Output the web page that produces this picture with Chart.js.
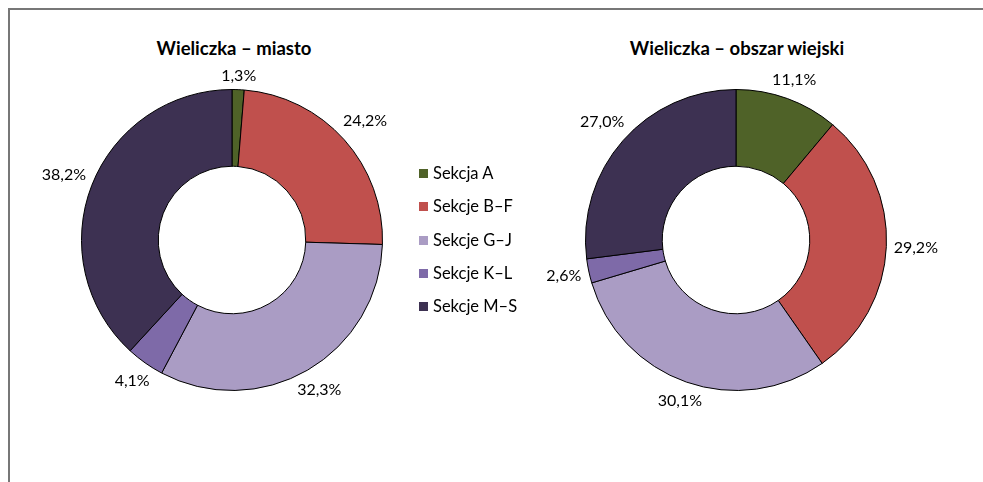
<!DOCTYPE html>
<html>
<head>
<meta charset="utf-8">
<script src="https://cdn.jsdelivr.net/npm/chart.js@4/dist/chart.umd.min.js"></script>
<style>
  body { margin: 0; background: #fff; font-family: Lato, "Noto Sans", sans-serif; }
  .frame { position: absolute; left: 8px; top: 8px; width: 975px; height: 474px; border-top: 2px solid #777; border-left: 2px solid #777; }
  .title { position: absolute; top: 37px; width: 300px; text-align: center; font-weight: bold; font-size: 18.5px; color: #000; }
  .box { position: absolute; width: 440px; height: 440px; top: 20px; }
  .legend { position: absolute; left: 419px; top: 163px; font-size: 16.5px; color: #000; z-index: 2; }
  .legend div { height: 33.3px; display: flex; align-items: flex-start; }
  .legend span.sw { width: 9px; height: 9px; margin-right: 5px; margin-top: 6px; }
</style>
</head>
<body>
<div class="frame"></div>
<div class="title" style="left:84px">Wieliczka – miasto</div>
<div class="title" style="left:587px">Wieliczka – obszar wiejski</div>
<div class="box" style="left:12px"><canvas id="chart-miasto"></canvas></div>
<div class="box" style="left:516px"><canvas id="chart-wies"></canvas></div>
<div class="legend" id="legend"></div>

<script>
const categories = ["Sekcja A", "Sekcje B–F", "Sekcje G–J", "Sekcje K–L", "Sekcje M–S"]
const miasto = [1.3, 24.2, 32.3, 4.1, 38.2]
const obszarWiejski = [11.1, 29.2, 30.1, 2.6, 27.0]
const colors = ["#4F6228", "#C0504D", "#AA9CC4", "#7E6AA8", "#3D3152"]

// etykiety na zewnątrz pierścienia, jak w Excelu
const outsideLabels = {
  id: "outsideLabels",
  afterDatasetsDraw(chart) {
    const ctx = chart.ctx
    const meta = chart.getDatasetMeta(0)
    const values = chart.data.datasets[0].data
    ctx.save()
    ctx.font = "16px Lato, 'Noto Sans', sans-serif"
    ctx.fillStyle = "#000"
    ctx.textAlign = "center"
    ctx.textBaseline = "middle"
    meta.data.forEach((arc, i) => {
      const p = arc.getProps(["x", "y", "startAngle", "endAngle", "outerRadius"], true)
      const mid = (p.startAngle + p.endAngle) / 2
      const ux = Math.cos(mid), uy = Math.sin(mid)
      const text = values[i].toFixed(1).replace(".", ",") + "%"
      const hw = ctx.measureText(text).width / 2, hh = 6.5
      const target = p.outerRadius + 7
      let d = p.outerRadius
      for (; d < p.outerRadius + 80; d += 0.5) {
        const cx = d * ux, cy = d * uy
        const nx = Math.max(cx - hw, Math.min(0, cx + hw))
        const ny = Math.max(cy - hh, Math.min(0, cy + hh))
        if (Math.hypot(nx, ny) >= target) break
      }
      ctx.fillText(text, p.x + d * ux, p.y + d * uy)
    })
    ctx.restore()
  }
}

function makeDoughnut(id, values) {
  new Chart(document.getElementById(id), {
    type: "doughnut",
    data: {
      labels: categories,
      datasets: [{
        data: values,
        backgroundColor: colors,
        borderColor: "#000",
        borderWidth: 1
      }]
    },
    options: {
      responsive: true,
      maintainAspectRatio: false,
      animation: false,
      cutout: "49%",
      layout: { padding: 69 },
      plugins: { legend: { display: false }, tooltip: { enabled: false } }
    },
    plugins: [outsideLabels]
  })
}

makeDoughnut("chart-miasto", miasto)
makeDoughnut("chart-wies", obszarWiejski)

document.getElementById("legend").innerHTML = categories.map((c, i) =>
  `<div><span class="sw" style="background:${colors[i]}"></span>${c}</div>`
).join("")
</script>
</body>
</html>
